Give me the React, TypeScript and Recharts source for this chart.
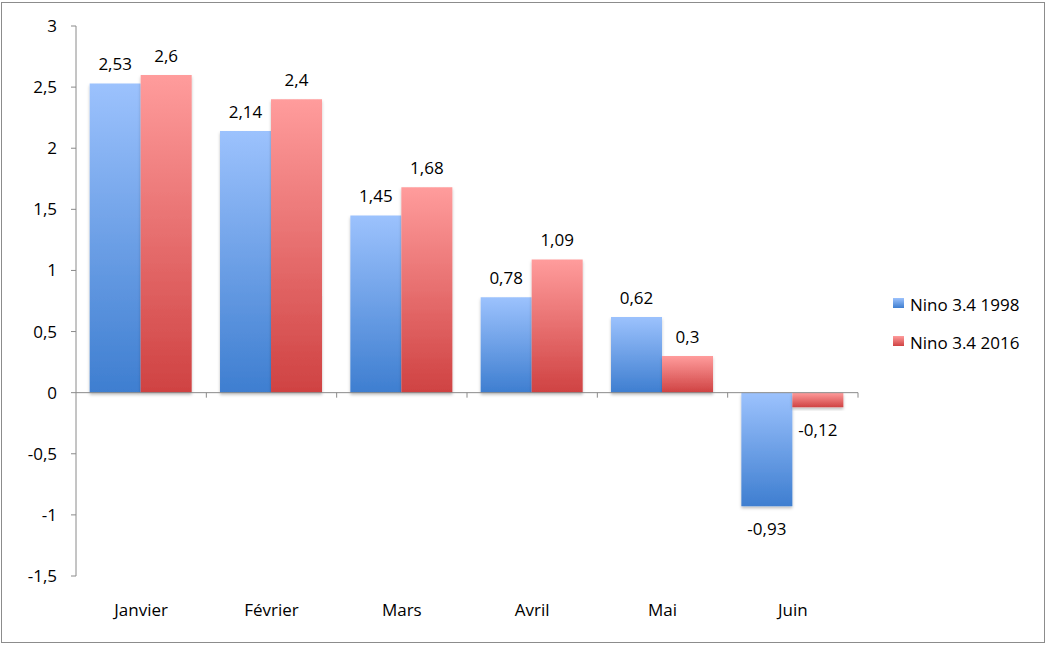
import React from 'react';
import { BarChart, Bar, XAxis, YAxis, ReferenceLine, Legend, LabelList } from 'recharts';

const categories = ['Janvier', 'Février', 'Mars', 'Avril', 'Mai', 'Juin'];
const nino1998 = [2.53, 2.14, 1.45, 0.78, 0.62, -0.93];
const nino2016 = [2.6, 2.4, 1.68, 1.09, 0.3, -0.12];
const seriesNames = ['Nino 3.4 1998', 'Nino 3.4 2016'];
const yTicks = [-1.5, -1, -0.5, 0, 0.5, 1, 1.5, 2, 2.5, 3];

const W = 1051;
const H = 646;
const MARGIN = { top: 26, right: 43, left: 16, bottom: 30 };
const X_AXIS_H = 40;
const PLOT_BOTTOM = H - MARGIN.bottom - X_AXIS_H;
const Y_MIN = yTicks[0];
const Y_MAX = yTicks[yTicks.length - 1];
const ZERO_Y = MARGIN.top + (PLOT_BOTTOM - MARGIN.top) * (Y_MAX / (Y_MAX - Y_MIN));

const AXIS = '#8a8a8a';
const FONT = '"Open Sans", sans-serif';

const data = categories.map((name, i) => ({
    name,
    s1998: nino1998[i],
    s2016: nino2016[i],
}));

const fmt = (v: number) => String(v).replace('.', ',');
const fmtPos = (v: any) => (Number(v) >= 0 ? fmt(Number(v)) : '');
const fmtNeg = (v: any) => (Number(v) < 0 ? fmt(Number(v)) : '');

const CategoryTick = (props: any) => {
    const { x, payload, index, visibleTicksCount } = props;
    const half = payload.offset ?? 0;
    const left = x - half;
    const right = x + half;
    const last = index === (visibleTicksCount ?? categories.length) - 1;
    return (
        <g>
            {index > 0 && <line x1={left} x2={left} y1={ZERO_Y} y2={ZERO_Y + 5} stroke={AXIS} />}
            {last && <line x1={right} x2={right} y1={ZERO_Y} y2={ZERO_Y + 5} stroke={AXIS} />}
            <text x={x} y={PLOT_BOTTOM + 34} dy="0.35em" textAnchor="middle" fill="#000" fontSize={17} fontFamily={FONT}>
                {payload.value}
            </text>
        </g>
    );
};

const colors = [
    { id: 'grad1998', top: '#9CC2FD', bottom: '#3E7ED0' },
    { id: 'grad2016', top: '#FF9C9C', bottom: '#CF4242' },
];

const LegendBox = () => (
    <div style={{ paddingLeft: 35, fontFamily: FONT, fontSize: 17, color: '#000', whiteSpace: 'nowrap', width: 150, boxSizing: 'border-box' }}>
        {seriesNames.map((n, i) => (
            <div key={n} style={{ height: 38, display: 'flex', alignItems: 'center' }}>
                <span
                    style={{
                        display: 'inline-block',
                        flex: 'none',
                        width: 11,
                        height: 10,
                        marginRight: 6,
                        marginTop: -3,
                        background: `linear-gradient(${colors[i].top}, ${colors[i].bottom})`,
                    }}
                />
                <span>{n}</span>
            </div>
        ))}
    </div>
);

const App: React.FC = () => {
    return (
        <div style={{ position: 'absolute', left: 0, top: 0, width: W, height: H, background: '#fff' }}>
            <div
                style={{
                    position: 'absolute',
                    left: 1,
                    top: 2,
                    width: 1044,
                    height: 641,
                    border: '1px solid #8c8c8c',
                    boxSizing: 'border-box',
                }}
            />
            <BarChart
                width={W}
                height={H}
                data={data}
                margin={MARGIN}
                barCategoryGap="10.5%"
                barGap={0}
            >
                <defs>
                    {colors.map((c) => (
                        <linearGradient key={c.id} id={c.id} x1="0" y1="0" x2="0" y2="1">
                            <stop offset="0%" stopColor={c.top} />
                            <stop offset="100%" stopColor={c.bottom} />
                        </linearGradient>
                    ))}
                    <filter id="barShadow" x="-10%" y="-10%" width="120%" height="130%">
                        <feDropShadow dx="0" dy="2" stdDeviation="1.5" floodColor="#000" floodOpacity="0.25" />
                    </filter>
                </defs>
                <XAxis
                    dataKey="name"
                    height={X_AXIS_H}
                    axisLine={false}
                    tickLine={false}
                    tick={<CategoryTick />}
                    interval={0}
                />
                <YAxis
                    width={60}
                    domain={[Y_MIN, Y_MAX]}
                    ticks={yTicks}
                    tickFormatter={fmt}
                    stroke={AXIS}
                    tickSize={5}
                    tickMargin={14}
                    tick={{ fill: '#000', fontSize: 17, fontFamily: FONT }}
                    interval={0}
                />
                <ReferenceLine y={0} stroke={AXIS} />
                <Legend
                    layout="vertical"
                    align="right"
                    verticalAlign="middle"
                    width={150}
                    wrapperStyle={{ width: 150 }}
                    content={<LegendBox />}
                />
                <Bar dataKey="s1998" name={seriesNames[0]} fill="url(#grad1998)" filter="url(#barShadow)" isAnimationActive={false}>
                    <LabelList dataKey="s1998" position="top" offset={13} formatter={fmtPos} fill="#000" fontSize={17} fontFamily={FONT} />
                    <LabelList dataKey="s1998" position="top" offset={17} formatter={fmtNeg} fill="#000" fontSize={17} fontFamily={FONT} />
                </Bar>
                <Bar dataKey="s2016" name={seriesNames[1]} fill="url(#grad2016)" filter="url(#barShadow)" isAnimationActive={false}>
                    <LabelList dataKey="s2016" position="top" offset={13} formatter={fmtPos} fill="#000" fontSize={17} fontFamily={FONT} />
                    <LabelList dataKey="s2016" position="top" offset={17} formatter={fmtNeg} fill="#000" fontSize={17} fontFamily={FONT} />
                </Bar>
            </BarChart>
        </div>
    );
};

export default App;
